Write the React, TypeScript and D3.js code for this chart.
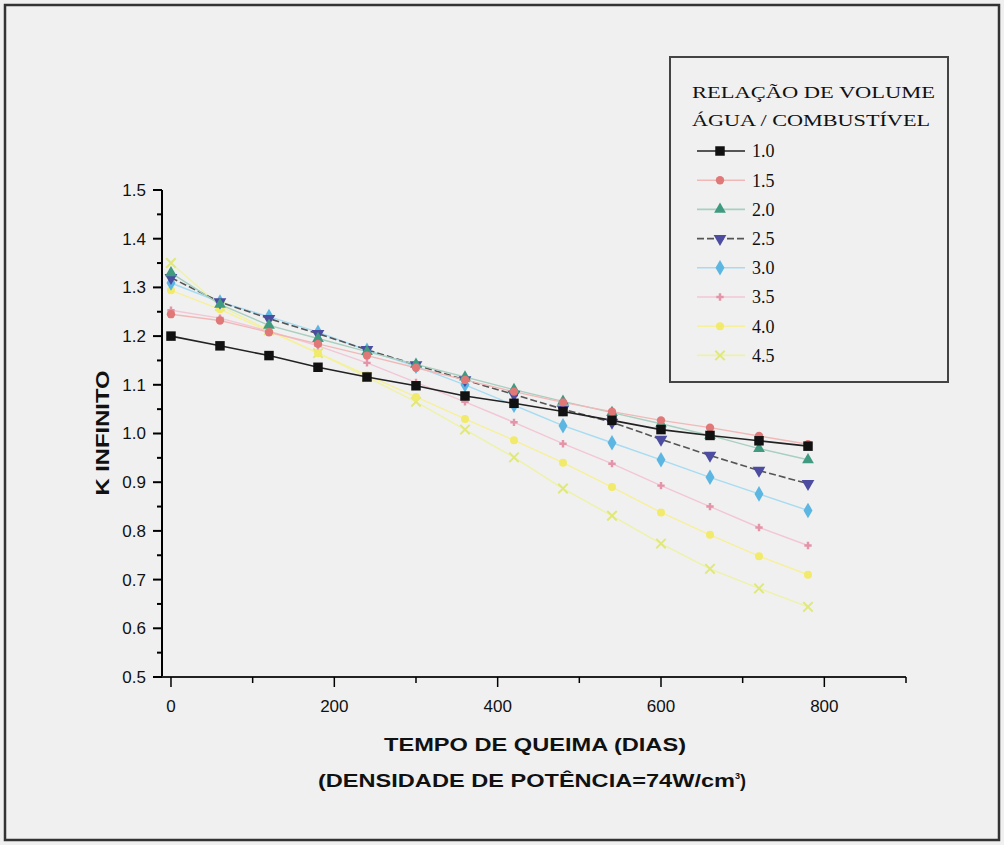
import * as d3 from "d3";

// tempo de queima (dias)
const days = [0, 60, 120, 180, 240, 300, 360, 420, 480, 540, 600, 660, 720, 780];

// K infinito por relação de volume água/combustível
const k10 = [1.200, 1.180, 1.160, 1.136, 1.116, 1.098, 1.077, 1.062, 1.045, 1.027, 1.008, 0.996, 0.985, 0.974];
const k15 = [1.245, 1.232, 1.208, 1.184, 1.160, 1.135, 1.110, 1.086, 1.064, 1.045, 1.027, 1.012, 0.995, 0.978];
const k20 = [1.330, 1.265, 1.222, 1.195, 1.168, 1.142, 1.116, 1.090, 1.066, 1.043, 1.020, 0.996, 0.969, 0.946];
const k25 = [1.320, 1.270, 1.236, 1.205, 1.172, 1.141, 1.110, 1.080, 1.050, 1.023, 0.988, 0.955, 0.924, 0.897];
const k30 = [1.309, 1.270, 1.240, 1.208, 1.171, 1.138, 1.100, 1.058, 1.016, 0.981, 0.946, 0.910, 0.876, 0.842];
const k35 = [1.253, 1.237, 1.210, 1.180, 1.145, 1.105, 1.065, 1.023, 0.979, 0.938, 0.893, 0.850, 0.807, 0.770];
const k40 = [1.294, 1.255, 1.210, 1.165, 1.120, 1.075, 1.030, 0.986, 0.940, 0.890, 0.838, 0.792, 0.748, 0.710];
const k45 = [1.350, 1.262, 1.212, 1.165, 1.116, 1.065, 1.008, 0.951, 0.887, 0.831, 0.774, 0.722, 0.682, 0.644];

const seriesNames = ["1.0", "1.5", "2.0", "2.5", "3.0", "3.5", "4.0", "4.5"];
const seriesValues = [k10, k15, k20, k25, k30, k35, k40, k45];
const lineColors = ["#222222", "#f2b8b8", "#a8cfc0", "#555555", "#a6dcf2", "#f3c6d6", "#f6f09a", "#eef2a8"];
const markColors = ["#111111", "#e07878", "#3f9a80", "#4c4ca0", "#5bb6e2", "#e494a8", "#f1ea6a", "#dfe878"];
const markTypes = [d3.symbolSquare, d3.symbolCircle, d3.symbolTriangle, d3.symbolTriangle, d3.symbolDiamond, d3.symbolCross, d3.symbolCircle, d3.symbolX];
const markSizes = [90, 55, 60, 70, 70, 30, 50, 60];

const yMajor = [0.5, 0.6, 0.7, 0.8, 0.9, 1.0, 1.1, 1.2, 1.3, 1.4, 1.5];
const yMinor = [0.55, 0.65, 0.75, 0.85, 0.95, 1.05, 1.15, 1.25, 1.35, 1.45];
const xMajor = [0, 200, 400, 600, 800];
const xMinor = [100, 300, 500, 700, 900];

const x = d3.scaleLinear().domain([-11, 900]).range([162, 906]);
const y = d3.scaleLinear().domain([0.5, 1.5]).range([677, 190]);

const sans = "Liberation Sans, Arial, sans-serif";
const serif = "Liberation Serif, Times New Roman, serif";

const Marker = ({ i, cx, cy }: { i: number; cx: number; cy: number }) => {
  const path = d3.symbol().type(markTypes[i]).size(markSizes[i])();
  const isStroke = markTypes[i] === d3.symbolX;
  const rot = i === 3 ? 180 : 0;
  return (
    <path
      d={path || ""}
      transform={`translate(${cx},${cy}) rotate(${rot})`}
      fill={isStroke ? "none" : markColors[i]}
      stroke={isStroke ? markColors[i] : "none"}
      strokeWidth={isStroke ? 2 : 0}
    />
  );
};

const App = () => {
  const line = d3.line<number>()
    .x((d, j) => x(days[j]))
    .y(d => y(d));

  const fmt = d3.format(".1f");
  const legendY0 = 151;
  const legendStep = 29.2;

  return (
    <svg width={1004} height={845} style={{ position: "absolute", left: 0, top: 0, display: "block" }}>
      <rect x={0} y={0} width={1004} height={845} fill="#f0f0f0" />
      <rect x={5} y={5} width={994} height={835} fill="#f0f0f0" stroke="#333" strokeWidth={2.5} />

      {/* series */}
      {seriesValues.map((vals, i) => (
        <path key={"l" + i} d={line(vals) || ""} fill="none" stroke={lineColors[i]}
          strokeWidth={i === 0 || i === 3 ? 1.6 : 1.4}
          strokeDasharray={i === 3 ? "7,3" : undefined} />
      )).reverse()}
      {seriesValues.map((vals, i) => (
        <g key={"m" + i}>
          {vals.map((v, j) => <Marker key={j} i={i} cx={x(days[j])} cy={y(v)} />)}
        </g>
      )).reverse()}

      {/* y axis */}
      <line x1={162} x2={162} y1={y(1.5)} y2={y(0.5)} stroke="#000" strokeWidth={2} />
      {yMajor.map(v => (
        <g key={"ym" + v}>
          <line x1={153} x2={162} y1={y(v)} y2={y(v)} stroke="#000" strokeWidth={2} />
          <text x={146} y={y(v)} dy="0.35em" textAnchor="end" fontFamily={sans} fontSize={17} fill="#111">{fmt(v)}</text>
        </g>
      ))}
      {yMinor.map(v => (
        <line key={"yn" + v} x1={157} x2={162} y1={y(v)} y2={y(v)} stroke="#000" strokeWidth={2} />
      ))}

      {/* x axis */}
      <line x1={162} x2={906} y1={677} y2={677} stroke="#222" strokeWidth={2} />
      {xMajor.map(v => (
        <g key={"xm" + v}>
          <line x1={x(v)} x2={x(v)} y1={677} y2={687} stroke="#000" strokeWidth={1.5} />
          <text x={x(v)} y={706} dy="0.35em" textAnchor="middle" fontFamily={sans} fontSize={17} fill="#111">{v}</text>
        </g>
      ))}
      {xMinor.map(v => (
        <line key={"xn" + v} x1={x(v)} x2={x(v)} y1={677} y2={683} stroke="#000" strokeWidth={1.5} />
      ))}

      {/* axis titles */}
      <text transform="translate(103,433) rotate(-90)" textAnchor="middle" dy="0.35em"
        fontFamily={sans} fontWeight="bold" fontSize={18} fill="#111"
        textLength={125} lengthAdjust="spacingAndGlyphs">K INFINITO</text>
      <text x={535} y={745} dy="0.35em" textAnchor="middle" fontFamily={sans}
        fontWeight="bold" fontSize={18} fill="#111" textLength={302} lengthAdjust="spacingAndGlyphs">TEMPO DE QUEIMA (DIAS)</text>
      <text x={318} y={781} dy="0.35em" fontFamily={sans} fontWeight="bold" fontSize={18} fill="#111">
        <tspan textLength={417} lengthAdjust="spacingAndGlyphs">(DENSIDADE DE POTÊNCIA=74W/cm</tspan>
        <tspan dy={-8} fontSize={9}>3</tspan>
        <tspan dy={8}>)</tspan>
      </text>

      {/* legend */}
      <rect x={670} y={57} width={278} height={325} fill="#f0f0f0" stroke="#444" strokeWidth={2} />
      <text x={692} y={98} fontFamily={serif} fontSize={16} fill="#111"
        textLength={243} lengthAdjust="spacingAndGlyphs">RELAÇÃO DE VOLUME</text>
      <text x={692} y={126} fontFamily={serif} fontSize={16} fill="#111"
        textLength={238} lengthAdjust="spacingAndGlyphs">ÁGUA / COMBUSTÍVEL</text>
      {seriesNames.map((name, i) => {
        const ly = legendY0 + i * legendStep;
        return (
          <g key={"lg" + i}>
            <line x1={697} x2={745} y1={ly} y2={ly} stroke={lineColors[i]} strokeWidth={1.6}
              strokeDasharray={i === 3 ? "7,3" : undefined} />
            <Marker i={i} cx={720} cy={ly} />
            <text x={752} y={ly} dy="0.35em" fontFamily={serif} fontSize={18} fill="#111">{name}</text>
          </g>
        );
      })}
    </svg>
  );
};

export default App;
